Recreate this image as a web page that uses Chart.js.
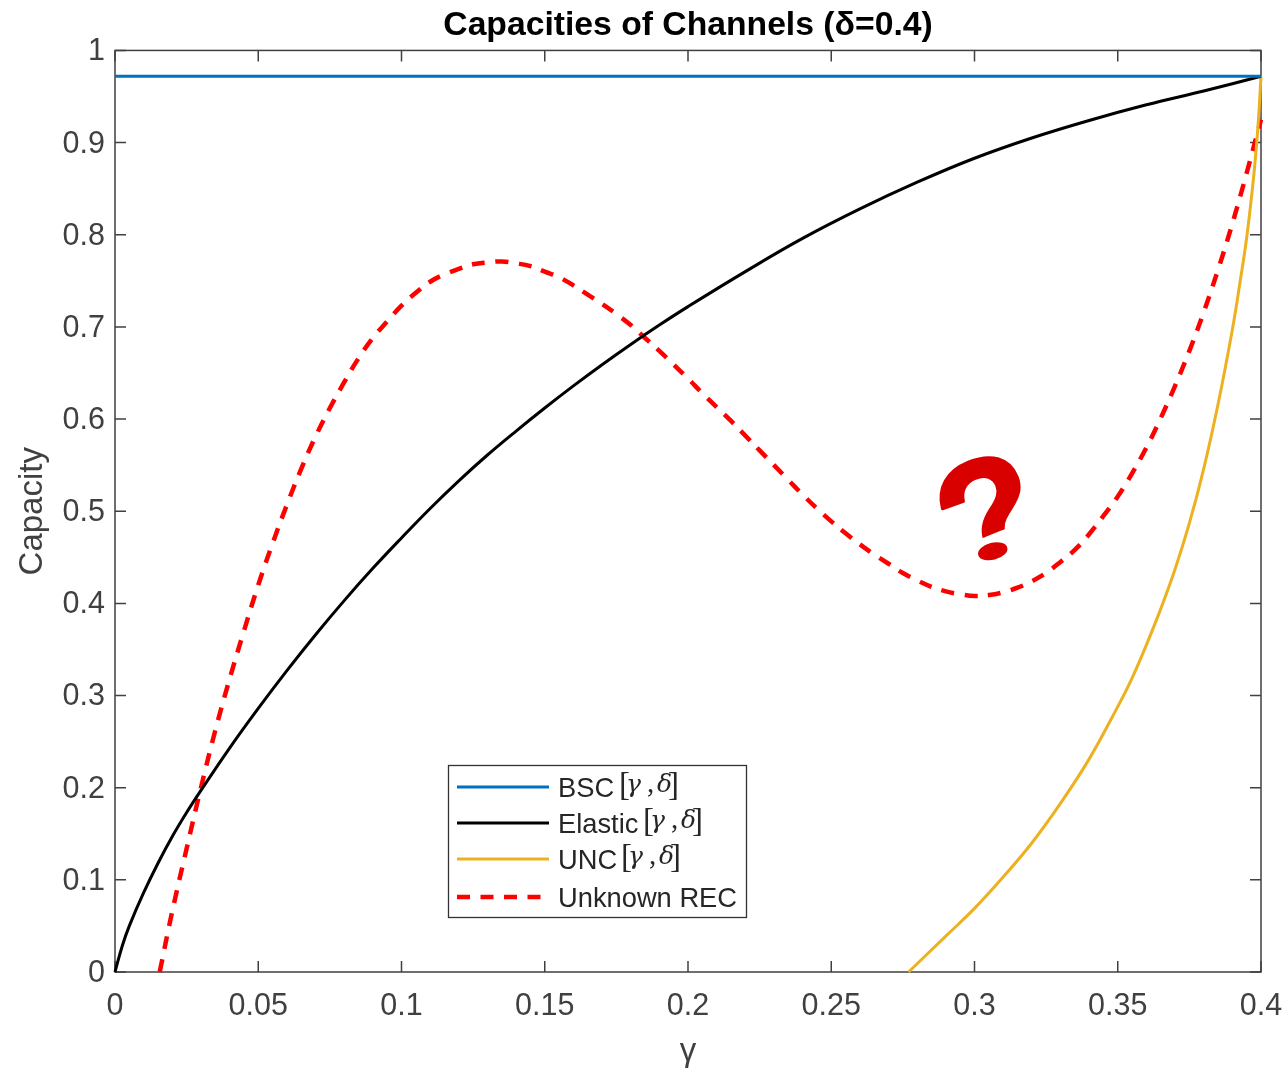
<!DOCTYPE html>
<html>
<head>
<meta charset="utf-8">
<style>html,body{margin:0;padding:0;background:#fff}canvas{display:block}</style>
<script src="https://cdn.jsdelivr.net/npm/chart.js@4/dist/chart.umd.min.js"></script>
</head>
<body>
<canvas id="c" width="1287" height="1068"></canvas>
<script>
const titleText = 'Capacities of Channels (δ=0.4)';
const xLabel = 'γ';
const yLabel = 'Capacity';
const xTicks = [0,0.05,0.1,0.15,0.2,0.25,0.3,0.35,0.4];
const yTicks = [0,0.1,0.2,0.3,0.4,0.5,0.6,0.7,0.8,0.9,1];

const bscX = [0,0.4];
const bscY = [0.972,0.972];

const elasticX = [0,0.0025,0.005,0.01,0.015,0.02,0.025,0.03,0.04,0.05,0.06,0.07,0.08,0.09,0.1,0.11,0.12,0.13,0.14,0.15,0.16,0.17,0.18,0.19,0.2,0.22,0.24,0.26,0.28,0.3,0.32,0.34,0.36,0.38,0.4];
const elasticY = [0,0.028,0.05,0.086,0.118,0.147,0.173,0.197,0.243,0.286,0.327,0.366,0.403,0.438,0.471,0.503,0.533,0.561,0.587,0.612,0.636,0.659,0.681,0.702,0.722,0.76,0.796,0.828,0.857,0.883,0.905,0.924,0.941,0.956,0.972];

const uncX = [0.277,0.29,0.3,0.31,0.32,0.33,0.34,0.35,0.355,0.36,0.365,0.37,0.375,0.38,0.385,0.39,0.3925,0.395,0.3975,0.399,0.4];
const uncY = [0,0.039,0.069,0.103,0.14,0.183,0.231,0.288,0.319,0.355,0.394,0.437,0.487,0.546,0.616,0.697,0.745,0.797,0.865,0.92,0.972];

const recX = [0.0156,0.02,0.025,0.03,0.035,0.04,0.045,0.05,0.055,0.06,0.065,0.07,0.075,0.08,0.085,0.09,0.095,0.1,0.105,0.11,0.115,0.12,0.125,0.13,0.135,0.14,0.145,0.15,0.155,0.16,0.165,0.17,0.175,0.18,0.185,0.19,0.195,0.2,0.205,0.21,0.215,0.22,0.225,0.23,0.235,0.24,0.245,0.25,0.255,0.26,0.265,0.27,0.275,0.28,0.285,0.29,0.295,0.3,0.305,0.31,0.315,0.32,0.325,0.33,0.335,0.34,0.345,0.35,0.355,0.36,0.365,0.37,0.375,0.38,0.385,0.39,0.395,0.4];
const recY = [0,0.066,0.134,0.2,0.262,0.318,0.37,0.42,0.465,0.507,0.546,0.581,0.612,0.64,0.666,0.688,0.706,0.723,0.737,0.749,0.757,0.763,0.768,0.77,0.771,0.769,0.766,0.76,0.754,0.745,0.735,0.725,0.714,0.702,0.688,0.674,0.659,0.644,0.628,0.613,0.598,0.582,0.566,0.55,0.534,0.518,0.503,0.489,0.476,0.464,0.453,0.443,0.433,0.425,0.418,0.413,0.41,0.408,0.409,0.412,0.417,0.424,0.433,0.445,0.458,0.475,0.495,0.516,0.541,0.569,0.601,0.636,0.674,0.716,0.762,0.812,0.867,0.925];

const pts = (xs, ys) => xs.map((x, i) => ({x, y: ys[i]}));
const AXIS = '#404040';
const SANS = '"Liberation Sans", Arial, sans-serif';
const SERIF = '"Liberation Serif", serif';
const MATH = '"DejaVu Serif", serif';

const frame = {
  id: 'frame',
  beforeDraw(chart) {
    const a = chart.chartArea;
    chart.titleBlock.left = a.left;
    chart.titleBlock.right = a.right;
    chart.scales.y.getLabelItems(a).forEach(it => {
      if (!it._shifted) { it.options.translation[1] += 1.5; it._shifted = true; }
    });
  },
  beforeDatasetsDraw(chart) {
    const {ctx, chartArea: a, scales: {x, y}} = chart;
    const L = 11;
    ctx.save();
    ctx.strokeStyle = AXIS;
    ctx.lineWidth = 1.5;
    ctx.strokeRect(a.left, a.top, a.right - a.left, a.bottom - a.top);
    ctx.beginPath();
    xTicks.forEach(v => {
      const p = x.getPixelForValue(v);
      ctx.moveTo(p, a.bottom); ctx.lineTo(p, a.bottom - L);
      ctx.moveTo(p, a.top); ctx.lineTo(p, a.top + L);
    });
    yTicks.forEach(v => {
      const p = y.getPixelForValue(v);
      ctx.moveTo(a.left, p); ctx.lineTo(a.left + L, p);
      ctx.moveTo(a.right, p); ctx.lineTo(a.right - L, p);
    });
    ctx.stroke();
    ctx.restore();
  }
};

const annot = {
  id: 'annot',
  afterDraw(chart) {
    const {ctx} = chart;
    ctx.save();
    // question mark
    ctx.translate(982, 506);
    ctx.rotate(-22 * Math.PI / 180);
    ctx.fillStyle = '#d90000';
    ctx.strokeStyle = '#d90000';
    ctx.lineWidth = 3;
    ctx.lineJoin = 'round';
    ctx.font = 'bold 160px "Liberation Sans", sans-serif';
    ctx.textAlign = 'center';
    ctx.textBaseline = 'alphabetic';
    ctx.save();
    ctx.beginPath(); ctx.rect(-80, -100, 160, 130); ctx.clip();
    ctx.fillText('?', 4, 66);
    ctx.strokeText('?', 4, 66);
    ctx.restore();
    ctx.beginPath();
    ctx.ellipse(-7, 46, 15, 8.5, 8 * Math.PI / 180, 0, Math.PI * 2);
    ctx.fill();
    ctx.restore();

    // legend box
    ctx.save();
    ctx.fillStyle = '#fff';
    ctx.strokeStyle = '#333';
    ctx.lineWidth = 1.3;
    ctx.fillRect(448.5, 765.5, 298, 152);
    ctx.strokeRect(448.5, 765.5, 298, 152);
    const rows = [787, 823, 859, 897];
    const bracketX = [620, 644, 622, null];
    chart.data.datasets.forEach((ds, i) => {
      const yy = rows[i];
      ctx.beginPath();
      ctx.strokeStyle = ds.borderColor;
      ctx.lineWidth = ds.borderWidth;
      ctx.setLineDash(ds.borderDash || []);
      ctx.moveTo(457, yy); ctx.lineTo(549, yy);
      ctx.stroke();
      ctx.setLineDash([]);
      ctx.fillStyle = '#262626';
      ctx.font = '27.3px ' + SANS;
      ctx.textBaseline = 'alphabetic';
      ctx.textAlign = 'left';
      const parts = ds.label.split(' [');
      if (bracketX[i] === null) {
        ctx.fillText(ds.label, 558, yy + 10);
      } else {
        ctx.fillText(parts[0], 558, yy + 10);
        const bx = bracketX[i], by = yy + 5;
        ctx.font = '33px ' + SERIF;
        ctx.fillText('[', bx - 1, by + 3);
        ctx.fillText(']', bx + 48, by + 3);
        ctx.font = 'italic 25px ' + MATH;
        ctx.fillText('γ', bx + 6, by);
        ctx.fillText('δ', bx + 37, by);
        ctx.font = '29px ' + SERIF;
        ctx.fillText(',', bx + 27, by);
      }
    });
    ctx.restore();
  }
};

new Chart(document.getElementById('c'), {
  type: 'scatter',
  data: {
    datasets: [
      {label: 'BSC [γ, δ]', data: pts(bscX, bscY), showLine: true, borderColor: '#0072BD', borderWidth: 3, pointRadius: 0, clip: false},
      {label: 'Elastic [γ, δ]', data: pts(elasticX, elasticY), showLine: true, borderColor: '#000000', borderWidth: 3, pointRadius: 0, tension: 0.4, clip: false},
      {label: 'UNC [γ, δ]', data: pts(uncX, uncY), showLine: true, borderColor: '#EDB120', borderWidth: 3, pointRadius: 0, tension: 0.4, clip: false},
      {label: 'Unknown REC', data: pts(recX, recY), showLine: true, borderColor: '#FF0000', borderWidth: 4.5, borderDash: [13, 10.5], pointRadius: 0, tension: 0.4, clip: false}
    ]
  },
  options: {
    responsive: false,
    animation: false,
    layout: {padding: {left: 0, right: 26, top: 0, bottom: 0}},
    plugins: {
      legend: {display: false},
      tooltip: {enabled: false},
      title: {display: true, text: titleText, color: '#000', font: {family: SANS, size: 33.7, weight: 'bold'}, padding: {top: 5, bottom: 5}}
    },
    scales: {
      x: {
        type: 'linear', min: 0, max: 0.4,
        afterBuildTicks(s) { s.ticks = xTicks.map(value => ({value})); },
        afterFit(s) { s.height = 96; s.paddingLeft = 0; s.paddingRight = 0; },
        grid: {display: false},
        border: {display: false},
        ticks: {color: AXIS, font: {family: SANS, size: 30.5}, padding: 8, maxRotation: 0, autoSkip: false, callback: v => String(+v.toFixed(2))},
        title: {display: true, text: xLabel, color: AXIS, font: {family: SANS, size: 33}, padding: {top: 0, bottom: -4}}
      },
      y: {
        type: 'linear', min: 0, max: 1,
        afterBuildTicks(s) { s.ticks = yTicks.map(value => ({value})); },
        afterFit(s) { s.width = 115; s.paddingTop = 0; s.paddingBottom = 0; },
        grid: {display: false},
        border: {display: false},
        ticks: {color: AXIS, font: {family: SANS, size: 30.5}, padding: 2, autoSkip: false, callback: v => String(+v.toFixed(1))},
        title: {display: true, text: yLabel, color: AXIS, font: {family: SANS, size: 33}, padding: {top: 13, bottom: 0}}
      }
    }
  },
  plugins: [frame, annot]
});
</script>
</body>
</html>
